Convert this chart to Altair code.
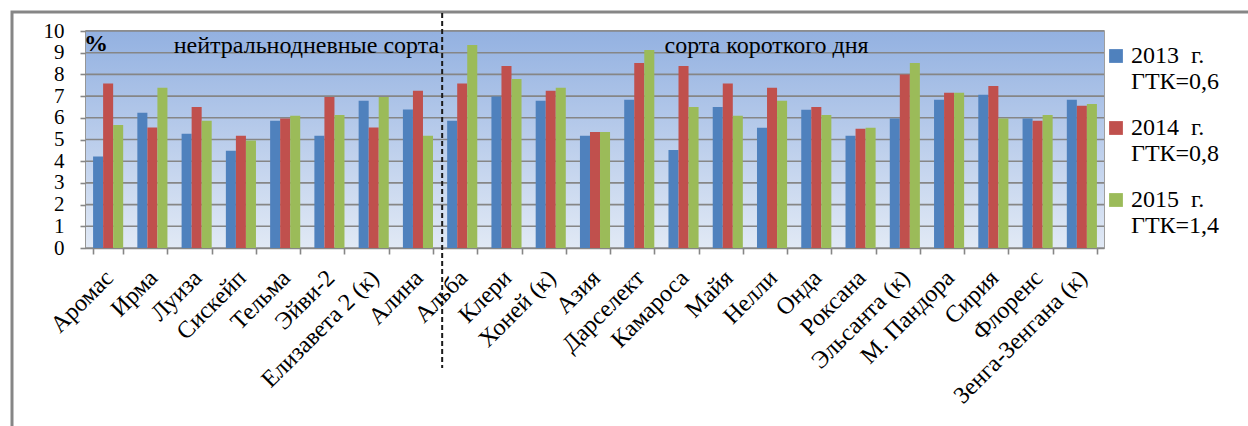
import altair as alt
import pandas as pd

# Strawberry varieties (neutral-day first, then short-day)
varieties = [
    "Аромас", "Ирма", "Луиза", "Сискейп", "Тельма", "Эйви-2", "Елизавета 2 (к)", "Алина",
    "Альба", "Клери", "Хоней (к)", "Азия", "Дарселект", "Камароса", "Майя", "Нелли", "Онда",
    "Роксана", "Эльсанта (к)", "М. Пандора", "Сирия", "Флоренс", "Зенга-Зенгана (к)",
]
v2013 = [4.22, 6.23, 5.26, 4.48, 5.86, 5.17, 6.78, 6.38,
         5.86, 6.98, 6.78, 5.17, 6.83, 4.52, 6.50, 5.54, 6.37,
         5.17, 5.97, 6.83, 7.06, 5.97, 6.83]
v2014 = [7.58, 5.55, 6.50, 5.17, 5.97, 6.96, 5.55, 7.25,
         7.58, 8.39, 7.25, 5.35, 8.53, 8.39, 7.58, 7.38, 6.50,
         5.49, 7.99, 7.15, 7.47, 5.86, 6.55]
v2015 = [5.67, 7.38, 5.86, 4.95, 6.09, 6.13, 6.96, 5.17,
         9.36, 7.79, 7.38, 5.35, 9.13, 6.50, 6.09, 6.78, 6.13,
         5.54, 8.53, 7.15, 5.97, 6.13, 6.64]

series_years = ["2013", "2014", "2015"]
series_gtk = ["0,6", "0,8", "1,4"]
series_colors = ["#4F81BD", "#C0504D", "#9BBB59"]

group_labels = ["нейтральнодневные сорта", "сорта короткого дня"]
y_ticks = list(range(0, 11))

W, H = 1018, 217
FONT = "Liberation Serif"
GRID = "#868686"

rows = []
for i, name in enumerate(varieties):
    for yr, vals in zip(series_years, [v2013, v2014, v2015]):
        rows.append({"sort": name, "year": yr, "value": vals[i]})
df = pd.DataFrame(rows)

x_scale = alt.Scale(domain=varieties, paddingInner=0.32, paddingOuter=0.16)
y_scale = alt.Scale(domain=[0, 10], nice=False)
y_axis = alt.Axis(
    title=None, values=y_ticks, grid=False, labelOverlap=False,
    labelFont=FONT, labelFontSize=21, labelColor="black", labelPadding=16,
    domainColor=GRID, domainWidth=1.6, tickColor=GRID, tickWidth=1.6, tickSize=6,
)

# legend text: year on the first line, hydrothermal coefficient on the second
gtk_expr = " : ".join(
    f"datum.label == '{y}' ? '{g}'" for y, g in zip(series_years[:-1], series_gtk[:-1])
) + f" : '{series_gtk[-1]}'"
label_expr = f"[datum.label + '\u00a0 г.', 'ГТК=' + ({gtk_expr})]"

# outer frame
frame = alt.Chart(pd.DataFrame({"k": [0]})).mark_rect(
    filled=False, stroke=GRID, strokeWidth=3
).encode(x=alt.value(-74), x2=alt.value(W + 200), y=alt.value(-19), y2=alt.value(H + 240))

# plot background gradient
background = alt.Chart(pd.DataFrame({"k": [0]})).mark_rect(
    fill=alt.Gradient(
        gradient="linear",
        stops=[alt.GradientStop(color="#93B1E1", offset=0),
               alt.GradientStop(color="#E1E9F5", offset=1)],
        x1=0, x2=0, y1=0, y2=1,
    )
).encode(x=alt.value(0), x2=alt.value(W), y=alt.value(0), y2=alt.value(H))

gridlines = alt.Chart(pd.DataFrame({"g": y_ticks})).mark_rule(
    color=GRID, strokeWidth=1.6
).encode(y=alt.Y("g:Q", scale=y_scale, axis=y_axis), x=alt.value(0), x2=alt.value(W))

bars = alt.Chart(df).mark_bar().encode(
    x=alt.X(
        "sort:N", sort=varieties, scale=x_scale,
        axis=alt.Axis(
            title=None, labelAngle=-45, labelAlign="right", labelBaseline="middle",
            labelFont=FONT, labelFontSize=24, labelColor="black",
            labelPadding=20, labelOffset=1, labelLimit=400, labelOverlap=False,
            domainColor=GRID, domainWidth=1.6, tickColor=GRID, tickWidth=1.6,
            tickSize=6, tickBand="extent", grid=False,
        ),
    ),
    xOffset=alt.XOffset("year:N", scale=alt.Scale(domain=series_years, paddingInner=0, paddingOuter=0)),
    y=alt.Y("value:Q", scale=y_scale, axis=y_axis),
    color=alt.Color(
        "year:N",
        scale=alt.Scale(domain=series_years, range=series_colors),
        legend=alt.Legend(
            title=None, orient="none", legendX=1018, legendY=13,
            labelExpr=label_expr, labelFont=FONT, labelFontSize=24, labelColor="black",
            symbolType="square", symbolSize=190, symbolStrokeWidth=0, symbolOpacity=1,
            padding=0, rowPadding=22, labelOffset=3,
        ),
    ),
)

# divider between the two groups of varieties
divider = alt.Chart(pd.DataFrame({"k": [0]})).mark_rule(
    color="#1a1a1a", strokeWidth=2, strokeDash=[5, 3], xOffset=-5
).encode(
    x=alt.XDatum(datum="Альба", type="nominal", bandPosition=0, scale=x_scale),
    y=alt.value(-18), y2=alt.value(337),
)

group_df = pd.DataFrame({
    "label": group_labels,
    "anchor": ["Альба", "Камароса"],
})
group_left = alt.Chart(group_df.iloc[[0]]).mark_text(
    font=FONT, fontSize=24, color="black", align="right", baseline="alphabetic", dx=-8
).encode(
    x=alt.X("anchor:N", scale=x_scale, bandPosition=0),
    y=alt.value(22), text="label:N",
)
group_right = alt.Chart(group_df.iloc[[1]]).mark_text(
    font=FONT, fontSize=24, color="black", align="left", baseline="alphabetic", dx=-4
).encode(
    x=alt.X("anchor:N", scale=x_scale, bandPosition=0),
    y=alt.value(22), text="label:N",
)

unit = alt.Chart(pd.DataFrame({"t": ["%"]})).mark_text(
    font=FONT, fontSize=24, fontWeight="bold", color="black", align="left", baseline="alphabetic"
).encode(x=alt.value(-2), y=alt.value(20), text="t:N")

chart = alt.layer(
    frame, background, gridlines, bars, divider, group_left, group_right, unit
).properties(
    width=W, height=H,
    autosize=alt.AutoSizeParams(type="none"),
    padding={"left": 86, "top": 31, "right": 1248 - 86 - W, "bottom": 426 - 31 - H},
    background="white",
).configure_view(stroke=GRID, strokeWidth=1.6)

chart.save("out.html", embed_options={"renderer": "svg", "actions": False})
